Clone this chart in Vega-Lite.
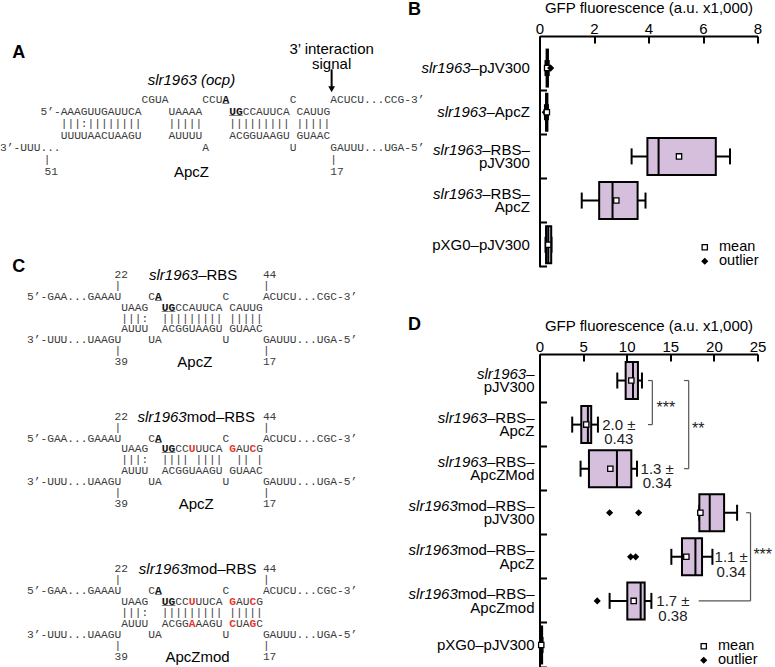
{
"$schema": "https://vega.github.io/schema/vega-lite/v6.json",
"padding": 0,
"background": "white",
"bounds": "flush",
"columns": 2,
"spacing": {"row": 86, "column": 149.5},
"resolve": {"scale": {"shape": "independent", "fill": "independent", "stroke": "independent"}, "legend": {"shape": "independent", "fill": "independent", "stroke": "independent"}},
"config": {
  "view": {"stroke": null},
  "font": "Liberation Sans",
  "axis": {"labelFont": "Liberation Sans", "titleFont": "Liberation Sans", "labelColor": "black", "titleColor": "black", "domainColor": "black", "tickColor": "black", "domainWidth": 2, "tickWidth": 2, "labelFontSize": 15, "titleFontSize": 15, "titleFontWeight": "normal", "grid": false},
  "legend": {"labelFont": "Liberation Sans", "labelFontSize": 14.5, "labelColor": "black", "rowPadding": -2, "padding": 0, "labelOffset": 7, "symbolSize": 28, "symbolStrokeWidth": 1.3}
},
"datasets": {
  "seqA": [
    {"s":"letter","line":-3.85,"col":1.8,"text":"A"},
    {"s":"sans","line":-4.15,"col":49.2,"text":"3’ interaction"},
    {"s":"sans","line":-2.98,"col":49.2,"text":"signal"},
    {"s":"itc","line":-1.62,"col":28.4,"text":"slr1963 (ocp)"},
    {"s":"arrow","line":-2.5,"line2":-0.95,"col":49.2},
    {"s":"tip","line":-0.85,"col":49.2},
    {"s":"n","line":0,"col":21,"text":"CGUA"},
    {"s":"n","line":0,"col":30,"text":"CCU"},
    {"s":"b","line":0,"col":33,"text":"A"},
    {"s":"u","line":0,"col":33,"text":"_"},
    {"s":"n","line":0,"col":43,"text":"C"},
    {"s":"n","line":0,"col":49,"text":"ACUCU...CCG-3’"},
    {"s":"n","line":1,"col":6,"text":"5’-AAAGUUGAUUCA"},
    {"s":"n","line":1,"col":25,"text":"UAAAA"},
    {"s":"b","line":1,"col":34,"text":"UG"},
    {"s":"u","line":1,"col":34,"text":"__"},
    {"s":"n","line":1,"col":36,"text":"CCAUUCA"},
    {"s":"n","line":1,"col":44,"text":"CAUUG"},
    {"s":"n","line":2,"col":9,"text":"|||:||||||||"},
    {"s":"n","line":2,"col":25,"text":"|||||"},
    {"s":"n","line":2,"col":34,"text":"|||||||||"},
    {"s":"n","line":2,"col":44,"text":"|||||"},
    {"s":"n","line":3,"col":9,"text":"UUUUAACUAAGU"},
    {"s":"n","line":3,"col":25,"text":"AUUUU"},
    {"s":"n","line":3,"col":34,"text":"ACGGUAAGU"},
    {"s":"n","line":3,"col":44,"text":"GUAAC"},
    {"s":"n","line":4,"col":0,"text":"3’-UUU..."},
    {"s":"n","line":4,"col":30,"text":"A"},
    {"s":"n","line":4,"col":43,"text":"U"},
    {"s":"n","line":4,"col":49,"text":"GAUUU...UGA-5’"},
    {"s":"n","line":5,"col":6.5,"text":"|"},
    {"s":"n","line":5,"col":49,"text":"|"},
    {"s":"n","line":6,"col":6.6,"text":"51"},
    {"s":"n","line":6,"col":49,"text":"17"},
    {"s":"sans","line":6,"col":28.4,"text":"ApcZ"}
  ],
  "seqC": [
    {"s":"letter","line":-0.7,"col":1.8,"text":"C"},
    {"s":"n","line":0,"col":17,"text":"22"},
    {"s":"itr","line":0,"col":29.4,"text":"slr1963"},
    {"s":"sansl","line":0,"col":29.4,"text":"–RBS"},
    {"s":"n","line":0,"col":39,"text":"44"},
    {"s":"n","line":1,"col":17,"text":"|"},
    {"s":"n","line":1,"col":39,"text":"|"},
    {"s":"n","line":2,"col":4,"text":"5’-GAA...GAAAU"},
    {"s":"n","line":2,"col":22,"text":"C"},
    {"s":"b","line":2,"col":23,"text":"A"},
    {"s":"u","line":2,"col":23,"text":"_"},
    {"s":"n","line":2,"col":33,"text":"C"},
    {"s":"n","line":2,"col":39,"text":"ACUCU...CGC-3’"},
    {"s":"n","line":3,"col":18,"text":"UAAG"},
    {"s":"b","line":3,"col":24,"text":"UG"},
    {"s":"u","line":3,"col":24,"text":"__"},
    {"s":"n","line":3,"col":26,"text":"CCAUUCA"},
    {"s":"n","line":3,"col":34,"text":"CAUUG"},
    {"s":"n","line":4,"col":18,"text":"|||:"},
    {"s":"n","line":4,"col":24,"text":"|||||||||"},
    {"s":"n","line":4,"col":34,"text":"|||||"},
    {"s":"n","line":5,"col":18,"text":"AUUU"},
    {"s":"n","line":5,"col":24,"text":"ACGGUAAGU"},
    {"s":"n","line":5,"col":34,"text":"GUAAC"},
    {"s":"n","line":6,"col":4,"text":"3’-UUU...UAAGU"},
    {"s":"n","line":6,"col":22,"text":"UA"},
    {"s":"n","line":6,"col":33,"text":"U"},
    {"s":"n","line":6,"col":39,"text":"GAUUU...UGA-5’"},
    {"s":"n","line":7,"col":17,"text":"|"},
    {"s":"n","line":7,"col":39,"text":"|"},
    {"s":"n","line":8,"col":17,"text":"39"},
    {"s":"sans","line":8,"col":28.9,"text":"ApcZ"},
    {"s":"n","line":8,"col":39,"text":"17"},

    {"s":"n","line":13,"col":17,"text":"22"},
    {"s":"itr","line":13,"col":27.7,"text":"slr1963"},
    {"s":"sansl","line":13,"col":27.7,"text":"mod–RBS"},
    {"s":"n","line":13,"col":39,"text":"44"},
    {"s":"n","line":14,"col":17,"text":"|"},
    {"s":"n","line":14,"col":39,"text":"|"},
    {"s":"n","line":15,"col":4,"text":"5’-GAA...GAAAU"},
    {"s":"n","line":15,"col":22,"text":"C"},
    {"s":"b","line":15,"col":23,"text":"A"},
    {"s":"u","line":15,"col":23,"text":"_"},
    {"s":"n","line":15,"col":33,"text":"C"},
    {"s":"n","line":15,"col":39,"text":"ACUCU...CGC-3’"},
    {"s":"n","line":16,"col":18,"text":"UAAG"},
    {"s":"b","line":16,"col":24,"text":"UG"},
    {"s":"u","line":16,"col":24,"text":"__"},
    {"s":"n","line":16,"col":26,"text":"CC"},
    {"s":"r","line":16,"col":28,"text":"U"},
    {"s":"n","line":16,"col":29,"text":"UUCA"},
    {"s":"r","line":16,"col":34,"text":"G"},
    {"s":"n","line":16,"col":35,"text":"AU"},
    {"s":"r","line":16,"col":37,"text":"C"},
    {"s":"n","line":16,"col":38,"text":"G"},
    {"s":"n","line":17,"col":18,"text":"|||:"},
    {"s":"n","line":17,"col":24,"text":"||||"},
    {"s":"n","line":17,"col":29,"text":"||||"},
    {"s":"n","line":17,"col":35,"text":"||"},
    {"s":"n","line":17,"col":38,"text":"|"},
    {"s":"n","line":18,"col":18,"text":"AUUU"},
    {"s":"n","line":18,"col":24,"text":"ACGGUAAGU"},
    {"s":"n","line":18,"col":34,"text":"GUAAC"},
    {"s":"n","line":19,"col":4,"text":"3’-UUU...UAAGU"},
    {"s":"n","line":19,"col":22,"text":"UA"},
    {"s":"n","line":19,"col":33,"text":"U"},
    {"s":"n","line":19,"col":39,"text":"GAUUU...UGA-5’"},
    {"s":"n","line":20,"col":17,"text":"|"},
    {"s":"n","line":20,"col":39,"text":"|"},
    {"s":"n","line":21,"col":17,"text":"39"},
    {"s":"sans","line":21,"col":29.1,"text":"ApcZ"},
    {"s":"n","line":21,"col":39,"text":"17"},

    {"s":"n","line":27,"col":17,"text":"22"},
    {"s":"itr","line":27,"col":27.9,"text":"slr1963"},
    {"s":"sansl","line":27,"col":27.9,"text":"mod–RBS"},
    {"s":"n","line":27,"col":39,"text":"44"},
    {"s":"n","line":28,"col":17,"text":"|"},
    {"s":"n","line":28,"col":39,"text":"|"},
    {"s":"n","line":29,"col":4,"text":"5’-GAA...GAAAU"},
    {"s":"n","line":29,"col":22,"text":"C"},
    {"s":"b","line":29,"col":23,"text":"A"},
    {"s":"u","line":29,"col":23,"text":"_"},
    {"s":"n","line":29,"col":33,"text":"C"},
    {"s":"n","line":29,"col":39,"text":"ACUCU...CGC-3’"},
    {"s":"n","line":30,"col":18,"text":"UAAG"},
    {"s":"b","line":30,"col":24,"text":"UG"},
    {"s":"u","line":30,"col":24,"text":"__"},
    {"s":"n","line":30,"col":26,"text":"CC"},
    {"s":"r","line":30,"col":28,"text":"U"},
    {"s":"n","line":30,"col":29,"text":"UUCA"},
    {"s":"r","line":30,"col":34,"text":"G"},
    {"s":"n","line":30,"col":35,"text":"AU"},
    {"s":"r","line":30,"col":37,"text":"C"},
    {"s":"n","line":30,"col":38,"text":"G"},
    {"s":"n","line":31,"col":18,"text":"|||:"},
    {"s":"n","line":31,"col":24,"text":"|||||||||"},
    {"s":"n","line":31,"col":34,"text":"|||||"},
    {"s":"n","line":32,"col":18,"text":"AUUU"},
    {"s":"n","line":32,"col":24,"text":"ACGG"},
    {"s":"r","line":32,"col":28,"text":"A"},
    {"s":"n","line":32,"col":29,"text":"AAGU"},
    {"s":"r","line":32,"col":34,"text":"C"},
    {"s":"n","line":32,"col":35,"text":"UA"},
    {"s":"r","line":32,"col":37,"text":"G"},
    {"s":"n","line":32,"col":38,"text":"C"},
    {"s":"n","line":33,"col":4,"text":"3’-UUU...UAAGU"},
    {"s":"n","line":33,"col":22,"text":"UA"},
    {"s":"n","line":33,"col":33,"text":"U"},
    {"s":"n","line":33,"col":39,"text":"GAUUU...UGA-5’"},
    {"s":"n","line":34,"col":17,"text":"|"},
    {"s":"n","line":34,"col":39,"text":"|"},
    {"s":"n","line":35,"col":17,"text":"39"},
    {"s":"sans","line":35,"col":29.3,"text":"ApcZmod"},
    {"s":"n","line":35,"col":39,"text":"17"}
  ],
  "boxB": [
    {"cat":"slr1963–pJV300","lo":0.22,"q1":0.26,"med":0.28,"q3":0.31,"hi":0.34},
    {"cat":"slr1963–ApcZ","lo":0.2,"q1":0.24,"med":0.26,"q3":0.29,"hi":0.31},
    {"cat":"slr1963–RBS–pJV300","lo":3.38,"q1":3.96,"med":4.37,"q3":6.47,"hi":6.99},
    {"cat":"slr1963–RBS–ApcZ","lo":1.55,"q1":2.19,"med":2.68,"q3":3.6,"hi":3.89},
    {"cat":"pXG0–pJV300","lo":0.22,"q1":0.24,"med":0.32,"q3":0.43,"hi":0.44}
  ],
  "markB": [
    {"cat":"slr1963–pJV300","v":0.28,"kind":"mean"},
    {"cat":"slr1963–pJV300","v":0.41,"kind":"outlier"},
    {"cat":"slr1963–ApcZ","v":0.21,"kind":"outlier"},
    {"cat":"slr1963–ApcZ","v":0.27,"kind":"mean"},
    {"cat":"slr1963–RBS–pJV300","v":5.12,"kind":"mean"},
    {"cat":"slr1963–RBS–ApcZ","v":2.82,"kind":"mean"},
    {"cat":"pXG0–pJV300","v":0.32,"kind":"mean"}
  ],
  "labB": [
    {"cat":"slr1963–pJV300","it":"slr1963","r1":"–pJV300","r2":"","n":1},
    {"cat":"slr1963–ApcZ","it":"slr1963","r1":"–ApcZ","r2":"","n":1},
    {"cat":"slr1963–RBS–pJV300","it":"slr1963","r1":"–RBS–","r2":"pJV300","n":2},
    {"cat":"slr1963–RBS–ApcZ","it":"slr1963","r1":"–RBS–","r2":"ApcZ","n":2},
    {"cat":"pXG0–pJV300","it":"","r1":"pXG0–pJV300","r2":"","n":1}
  ],
  "boxD": [
    {"cat":"slr1963–pJV300","lo":8.92,"q1":9.88,"med":10.72,"q3":11.29,"hi":11.75},
    {"cat":"slr1963–RBS–ApcZ","lo":3.75,"q1":4.79,"med":5.55,"q3":5.93,"hi":6.7},
    {"cat":"slr1963–RBS–ApcZMod","lo":4.71,"q1":5.67,"med":8.88,"q3":10.53,"hi":11.18},
    {"cat":"slr1963mod–RBS–pJV300","lo":18.33,"q1":18.33,"med":19.52,"q3":21.17,"hi":22.66},
    {"cat":"slr1963mod–RBS–ApcZ","lo":15.12,"q1":16.34,"med":17.88,"q3":18.64,"hi":19.83},
    {"cat":"slr1963mod–RBS–ApcZmod","lo":8.04,"q1":10.07,"med":11.6,"q3":12.06,"hi":12.83},
    {"cat":"pXG0–pJV300","lo":0.1,"q1":0.15,"med":0.2,"q3":0.3,"hi":0.35}
  ],
  "markD": [
    {"cat":"slr1963–pJV300","v":10.53,"kind":"mean"},
    {"cat":"slr1963–RBS–ApcZ","v":5.36,"kind":"mean"},
    {"cat":"slr1963–RBS–ApcZMod","v":8.12,"kind":"mean"},
    {"cat":"slr1963mod–RBS–pJV300","v":18.45,"kind":"mean"},
    {"cat":"slr1963mod–RBS–pJV300","v":8.04,"kind":"outlier"},
    {"cat":"slr1963mod–RBS–pJV300","v":11.37,"kind":"outlier"},
    {"cat":"slr1963mod–RBS–ApcZ","v":16.84,"kind":"mean"},
    {"cat":"slr1963mod–RBS–ApcZ","v":10.45,"kind":"outlier"},
    {"cat":"slr1963mod–RBS–ApcZ","v":11.03,"kind":"outlier"},
    {"cat":"slr1963mod–RBS–ApcZmod","v":10.8,"kind":"mean"},
    {"cat":"slr1963mod–RBS–ApcZmod","v":6.62,"kind":"outlier"},
    {"cat":"pXG0–pJV300","v":0.2,"kind":"mean"}
  ],
  "labD": [
    {"cat":"slr1963–pJV300","it":"slr1963","r1":"–","r2":"pJV300","n":2},
    {"cat":"slr1963–RBS–ApcZ","it":"slr1963","r1":"–RBS–","r2":"ApcZ","n":2},
    {"cat":"slr1963–RBS–ApcZMod","it":"slr1963","r1":"–RBS–","r2":"ApcZMod","n":2},
    {"cat":"slr1963mod–RBS–pJV300","it":"slr1963","r1":"mod–RBS–","r2":"pJV300","n":2},
    {"cat":"slr1963mod–RBS–ApcZ","it":"slr1963","r1":"mod–RBS–","r2":"ApcZ","n":2},
    {"cat":"slr1963mod–RBS–ApcZmod","it":"slr1963","r1":"mod–RBS–","r2":"ApcZmod","n":2},
    {"cat":"pXG0–pJV300","it":"","r1":"pXG0–pJV300","r2":"","n":1}
  ],
  "annD": [
    {"cat":"slr1963–RBS–ApcZ","x":9.1,"text":"2.0 ±\n0.43"},
    {"cat":"slr1963–RBS–ApcZMod","x":13.5,"text":"1.3 ±\n0.34"},
    {"cat":"slr1963mod–RBS–ApcZ","x":21.98,"text":"1.1 ±\n0.34"},
    {"cat":"slr1963mod–RBS–ApcZmod","x":15.3,"text":"1.7 ±\n0.38"}
  ],
  "brV": [
    {"cat":"slr1963–pJV300","cat2":"slr1963–RBS–ApcZ","x":12.94},
    {"cat":"slr1963–pJV300","cat2":"slr1963–RBS–ApcZMod","x":17.11},
    {"cat":"slr1963mod–RBS–pJV300","cat2":"slr1963mod–RBS–ApcZmod","x":24.2}
  ],
  "brH": [
    {"cat":"slr1963–pJV300","x1":12.44,"x2":12.94},
    {"cat":"slr1963–RBS–ApcZ","x1":12.44,"x2":12.94},
    {"cat":"slr1963–pJV300","x1":16.58,"x2":17.11},
    {"cat":"slr1963–RBS–ApcZMod","x1":16.58,"x2":17.11},
    {"cat":"slr1963mod–RBS–pJV300","x1":23.7,"x2":24.2},
    {"cat":"slr1963mod–RBS–ApcZmod","x1":18.26,"x2":24.2}
  ],
  "starsD": [
    {"cat":"slr1963–pJV300","x":14.5,"text":"***","k":"edge"},
    {"cat":"slr1963–RBS–ApcZ","x":18.2,"text":"**","k":"mid"},
    {"cat":"slr1963mod–RBS–ApcZ","x":25.6,"text":"***","k":"high"}
  ]
},
"concat": [
  {
    "width": 390,
    "height": 231.5,
    "data": {"name": "seqA"},
    "encoding": {
      "x": {"field": "col", "type": "quantitative", "scale": {"domain": [0, 57.86], "nice": false, "zero": false}, "axis": null},
      "y": {"field": "line", "type": "quantitative", "scale": {"domain": [-5.27, 13.94], "nice": false, "zero": false, "reverse": true}, "axis": null}
    },
    "layer": [
      {"transform": [{"filter": "datum.s == 'n'"}], "mark": {"type": "text", "font": "Liberation Mono", "fontSize": 11.23, "align": "left", "baseline": "middle", "color": "#3a3a3a", "opacity": 0.99}, "encoding": {"text": {"field": "text"}}},
      {"transform": [{"filter": "datum.s == 'b' || datum.s == 'u'"}], "mark": {"type": "text", "font": "Liberation Mono", "fontSize": 11.23, "fontWeight": "bold", "align": "left", "baseline": "middle", "color": "#111111", "opacity": 0.99}, "encoding": {"text": {"field": "text"}}},
      {"transform": [{"filter": "datum.s == 'sans'"}], "mark": {"type": "text", "font": "Liberation Sans", "fontSize": 15, "align": "center", "baseline": "middle", "color": "black"}, "encoding": {"text": {"field": "text"}}},
      {"transform": [{"filter": "datum.s == 'itc'"}], "mark": {"type": "text", "font": "Liberation Sans", "fontSize": 15, "fontStyle": "italic", "align": "center", "baseline": "middle", "color": "black"}, "encoding": {"text": {"field": "text"}}},
      {"transform": [{"filter": "datum.s == 'letter'"}], "mark": {"type": "text", "font": "Liberation Sans", "fontSize": 18, "fontWeight": "bold", "align": "left", "baseline": "middle", "color": "black"}, "encoding": {"text": {"field": "text"}}},
      {"transform": [{"filter": "datum.s == 'arrow'"}], "mark": {"type": "rule", "color": "black", "strokeWidth": 2}, "encoding": {"y2": {"field": "line2"}}},
      {"transform": [{"filter": "datum.s == 'tip'"}], "mark": {"type": "point", "shape": "triangle-down", "filled": true, "color": "black", "size": 45, "opacity": 1}}
    ]
  },
  {
    "width": 218,
    "height": 230.8,
    "title": {"text": "B", "anchor": "start", "frame": "group", "font": "Liberation Sans", "fontSize": 18, "fontWeight": "bold", "color": "black", "dx": -131.5, "dy": 18.5, "offset": 0},
    "encoding": {
      "y": {"field": "cat", "type": "nominal", "title": null,
        "scale": {"type": "band", "domain": ["slr1963–pJV300","slr1963–ApcZ","slr1963–RBS–pJV300","slr1963–RBS–ApcZ","pXG0–pJV300"], "paddingInner": 0, "paddingOuter": 0.1132, "align": 1},
        "axis": {"title": null, "labels": false, "tickSize": -7, "bandPosition": 1, "domainWidth": 2, "tickWidth": 2}}
    },
    "layer": [
      {"data": {"name": "boxB"}, "mark": {"type": "rule", "color": "black", "strokeWidth": 2},
       "encoding": {"x": {"field": "lo", "type": "quantitative", "title": "GFP fluorescence (a.u. x1,000)", "scale": {"domain": [0, 8], "nice": false, "zero": false},
         "axis": {"orient": "top", "values": [0, 2, 4, 6, 8], "tickSize": -7, "labelPadding": 7, "titlePadding": 6, "labelFlush": false}},
         "x2": {"field": "hi"}}},
      {"data": {"name": "boxB"}, "mark": {"type": "tick", "color": "black", "thickness": 2, "size": 16, "opacity": 1},
       "encoding": {"x": {"field": "lo", "type": "quantitative", "title": "GFP fluorescence (a.u. x1,000)"}}},
      {"data": {"name": "boxB"}, "mark": {"type": "tick", "color": "black", "thickness": 2, "size": 16, "opacity": 1},
       "encoding": {"x": {"field": "hi", "type": "quantitative", "title": "GFP fluorescence (a.u. x1,000)"}}},
      {"data": {"name": "boxB"}, "mark": {"type": "bar", "fill": "#d5bfdd", "stroke": "black", "strokeWidth": 2, "size": 37},
       "encoding": {"x": {"field": "q1", "type": "quantitative", "title": "GFP fluorescence (a.u. x1,000)"}, "x2": {"field": "q3"}}},
      {"data": {"name": "boxB"}, "mark": {"type": "tick", "color": "black", "thickness": 2, "size": 37, "opacity": 1},
       "encoding": {"x": {"field": "med", "type": "quantitative", "title": "GFP fluorescence (a.u. x1,000)"}}},
      {"data": {"name": "markB"}, "mark": {"type": "point", "filled": true, "strokeWidth": 1.3, "size": 28, "opacity": 1},
       "encoding": {
         "x": {"field": "v", "type": "quantitative", "title": "GFP fluorescence (a.u. x1,000)"},
         "shape": {"field": "kind", "type": "nominal", "scale": {"domain": ["mean", "outlier"], "range": ["square", "diamond"]}, "legend": {"title": null, "orient": "bottom-right", "offset": -1}},
         "fill": {"field": "kind", "type": "nominal", "scale": {"domain": ["mean", "outlier"], "range": ["white", "black"]}, "legend": {"title": null, "orient": "bottom-right", "offset": -1}},
         "stroke": {"field": "kind", "type": "nominal", "scale": {"domain": ["mean", "outlier"], "range": ["black", "black"]}, "legend": {"title": null, "orient": "bottom-right", "offset": -1}}
       }},
      {"data": {"name": "labB"}, "transform": [{"filter": "datum.n == 1"}], "mark": {"type": "text", "font": "Liberation Sans", "fontSize": 15, "align": "right", "baseline": "middle", "color": "black", "dx": -9.7},
       "encoding": {"x": {"datum": 0, "type": "quantitative"}, "text": {"field": "r1"}}},
      {"data": {"name": "labB"}, "transform": [{"filter": "datum.n == 2"}], "mark": {"type": "text", "font": "Liberation Sans", "fontSize": 15, "align": "right", "baseline": "middle", "color": "black", "dx": -9.7, "dy": -6.7},
       "encoding": {"x": {"datum": 0, "type": "quantitative"}, "text": {"field": "r1"}}},
      {"data": {"name": "labB"}, "transform": [{"filter": "datum.n == 2"}], "mark": {"type": "text", "font": "Liberation Sans", "fontSize": 15, "align": "right", "baseline": "middle", "color": "black", "dx": -9.7, "dy": 6.7},
       "encoding": {"x": {"datum": 0, "type": "quantitative"}, "text": {"field": "r2"}}},
      {"data": {"name": "labB"}, "transform": [{"filter": "datum.r1 == '–pJV300'"}], "mark": {"type": "text", "font": "Liberation Sans", "fontSize": 15, "fontStyle": "italic", "align": "right", "baseline": "middle", "color": "black", "dx": -68.9},
       "encoding": {"x": {"datum": 0, "type": "quantitative"}, "text": {"field": "it"}}},
      {"data": {"name": "labB"}, "transform": [{"filter": "datum.r1 == '–ApcZ'"}], "mark": {"type": "text", "font": "Liberation Sans", "fontSize": 15, "fontStyle": "italic", "align": "right", "baseline": "middle", "color": "black", "dx": -53.05},
       "encoding": {"x": {"datum": 0, "type": "quantitative"}, "text": {"field": "it"}}},
      {"data": {"name": "labB"}, "transform": [{"filter": "datum.r1 == '–RBS–'"}], "mark": {"type": "text", "font": "Liberation Sans", "fontSize": 15, "fontStyle": "italic", "align": "right", "baseline": "middle", "color": "black", "dx": -57.2, "dy": -6.7},
       "encoding": {"x": {"datum": 0, "type": "quantitative"}, "text": {"field": "it"}}}
    ]
  },
  {
    "width": 390,
    "height": 313,
    "data": {"name": "seqC"},
    "encoding": {
      "x": {"field": "col", "type": "quantitative", "scale": {"domain": [0, 57.86], "nice": false, "zero": false}, "axis": null},
      "y": {"field": "line", "type": "quantitative", "scale": {"domain": [7.248, 35.96], "nice": false, "zero": false, "reverse": true}, "axis": null}
    },
    "layer": [
      {"transform": [{"filter": "datum.s == 'n'"}], "mark": {"type": "text", "font": "Liberation Mono", "fontSize": 11.23, "align": "left", "baseline": "middle", "color": "#3a3a3a", "opacity": 0.99}, "encoding": {"text": {"field": "text"}}},
      {"transform": [{"filter": "datum.s == 'b' || datum.s == 'u'"}], "mark": {"type": "text", "font": "Liberation Mono", "fontSize": 11.23, "fontWeight": "bold", "align": "left", "baseline": "middle", "color": "#111111", "opacity": 0.99}, "encoding": {"text": {"field": "text"}}},
      {"transform": [{"filter": "datum.s == 'r'"}], "mark": {"type": "text", "font": "Liberation Mono", "fontSize": 11.23, "fontWeight": "bold", "align": "left", "baseline": "middle", "color": "#e8352b", "opacity": 0.99}, "encoding": {"text": {"field": "text"}}},
      {"transform": [{"filter": "datum.s == 'sans'"}], "mark": {"type": "text", "font": "Liberation Sans", "fontSize": 15, "align": "center", "baseline": "middle", "color": "black"}, "encoding": {"text": {"field": "text"}}},
      {"transform": [{"filter": "datum.s == 'itr'"}], "mark": {"type": "text", "font": "Liberation Sans", "fontSize": 15, "fontStyle": "italic", "align": "right", "baseline": "middle", "color": "black"}, "encoding": {"text": {"field": "text"}}},
      {"transform": [{"filter": "datum.s == 'sansl'"}], "mark": {"type": "text", "font": "Liberation Sans", "fontSize": 15, "align": "left", "baseline": "middle", "color": "black"}, "encoding": {"text": {"field": "text"}}},
      {"transform": [{"filter": "datum.s == 'letter'"}], "mark": {"type": "text", "font": "Liberation Sans", "fontSize": 18, "fontWeight": "bold", "align": "left", "baseline": "middle", "color": "black"}, "encoding": {"text": {"field": "text"}}}
    ]
  },
  {
    "width": 218,
    "height": 313,
    "title": {"text": "D", "anchor": "start", "frame": "group", "font": "Liberation Sans", "fontSize": 18, "fontWeight": "bold", "color": "black", "dx": -131.5, "dy": 15.5, "offset": 0},
    "encoding": {
      "y": {"field": "cat", "type": "nominal", "title": null,
        "scale": {"type": "band", "domain": ["slr1963–pJV300","slr1963–RBS–ApcZ","slr1963–RBS–ApcZMod","slr1963mod–RBS–pJV300","slr1963mod–RBS–ApcZ","slr1963mod–RBS–ApcZmod","pXG0–pJV300"], "paddingInner": 0, "paddingOuter": 0.051, "align": 1},
        "axis": {"title": null, "labels": false, "tickSize": -7, "bandPosition": 1, "domainWidth": 2, "tickWidth": 2}}
    },
    "layer": [
      {"data": {"name": "brV"}, "mark": {"type": "rule", "color": "#555555", "strokeWidth": 1.2},
       "encoding": {"x": {"field": "x", "type": "quantitative", "title": "GFP fluorescence (a.u. x1,000)", "scale": {"domain": [0, 25], "nice": false, "zero": false},
         "axis": {"orient": "top", "values": [0, 5, 10, 15, 20, 25], "tickSize": -7, "labelPadding": 7, "titlePadding": 6, "labelFlush": false}},
         "y2": {"field": "cat2"}}},
      {"data": {"name": "brH"}, "mark": {"type": "rule", "color": "#555555", "strokeWidth": 1.2},
       "encoding": {"x": {"field": "x1", "type": "quantitative", "title": "GFP fluorescence (a.u. x1,000)"}, "x2": {"field": "x2"}}},
      {"data": {"name": "boxD"}, "mark": {"type": "rule", "color": "black", "strokeWidth": 2},
       "encoding": {"x": {"field": "lo", "type": "quantitative", "title": "GFP fluorescence (a.u. x1,000)"}, "x2": {"field": "hi"}}},
      {"data": {"name": "boxD"}, "mark": {"type": "tick", "color": "black", "thickness": 2, "size": 16, "opacity": 1},
       "encoding": {"x": {"field": "lo", "type": "quantitative", "title": "GFP fluorescence (a.u. x1,000)"}}},
      {"data": {"name": "boxD"}, "mark": {"type": "tick", "color": "black", "thickness": 2, "size": 16, "opacity": 1},
       "encoding": {"x": {"field": "hi", "type": "quantitative", "title": "GFP fluorescence (a.u. x1,000)"}}},
      {"data": {"name": "boxD"}, "mark": {"type": "bar", "fill": "#d5bfdd", "stroke": "black", "strokeWidth": 2, "size": 37},
       "encoding": {"x": {"field": "q1", "type": "quantitative", "title": "GFP fluorescence (a.u. x1,000)"}, "x2": {"field": "q3"}}},
      {"data": {"name": "boxD"}, "mark": {"type": "tick", "color": "black", "thickness": 2, "size": 37, "opacity": 1},
       "encoding": {"x": {"field": "med", "type": "quantitative", "title": "GFP fluorescence (a.u. x1,000)"}}},
      {"data": {"name": "markD"}, "mark": {"type": "point", "filled": true, "strokeWidth": 1.3, "size": 28, "opacity": 1},
       "encoding": {
         "x": {"field": "v", "type": "quantitative", "title": "GFP fluorescence (a.u. x1,000)"},
         "shape": {"field": "kind", "type": "nominal", "scale": {"domain": ["mean", "outlier"], "range": ["square", "diamond"]}, "legend": {"title": null, "orient": "bottom-right", "offset": 0}},
         "fill": {"field": "kind", "type": "nominal", "scale": {"domain": ["mean", "outlier"], "range": ["white", "black"]}, "legend": {"title": null, "orient": "bottom-right", "offset": 0}},
         "stroke": {"field": "kind", "type": "nominal", "scale": {"domain": ["mean", "outlier"], "range": ["black", "black"]}, "legend": {"title": null, "orient": "bottom-right", "offset": 0}}
       }},
      {"data": {"name": "annD"}, "mark": {"type": "text", "font": "Liberation Sans", "fontSize": 15, "align": "center", "baseline": "middle", "color": "#222222", "lineBreak": "\n", "lineHeight": 14.7},
       "encoding": {"x": {"field": "x", "type": "quantitative", "title": "GFP fluorescence (a.u. x1,000)"}, "text": {"field": "text"}}},
      {"data": {"name": "starsD"}, "transform": [{"filter": "datum.k == 'edge'"}], "mark": {"type": "text", "font": "Liberation Sans", "fontSize": 16, "align": "center", "baseline": "middle", "color": "#222222", "dy": 5},
       "encoding": {"x": {"field": "x", "type": "quantitative", "title": "GFP fluorescence (a.u. x1,000)"}, "y": {"field": "cat", "type": "nominal", "bandPosition": 1}, "text": {"field": "text"}}},
      {"data": {"name": "starsD"}, "transform": [{"filter": "datum.k == 'mid'"}], "mark": {"type": "text", "font": "Liberation Sans", "fontSize": 16, "align": "center", "baseline": "middle", "color": "#222222", "dy": 4},
       "encoding": {"x": {"field": "x", "type": "quantitative", "title": "GFP fluorescence (a.u. x1,000)"}, "text": {"field": "text"}}},
      {"data": {"name": "starsD"}, "transform": [{"filter": "datum.k == 'high'"}], "mark": {"type": "text", "font": "Liberation Sans", "fontSize": 16, "align": "center", "baseline": "middle", "color": "#222222", "dy": -2},
       "encoding": {"x": {"field": "x", "type": "quantitative", "title": "GFP fluorescence (a.u. x1,000)"}, "text": {"field": "text"}}},
      {"data": {"name": "labD"}, "transform": [{"filter": "datum.n == 1"}], "mark": {"type": "text", "font": "Liberation Sans", "fontSize": 15, "align": "right", "baseline": "middle", "color": "black", "dx": -5},
       "encoding": {"x": {"datum": 0, "type": "quantitative"}, "text": {"field": "r1"}}},
      {"data": {"name": "labD"}, "transform": [{"filter": "datum.n == 2"}], "mark": {"type": "text", "font": "Liberation Sans", "fontSize": 15, "align": "right", "baseline": "middle", "color": "black", "dx": -5, "dy": -6.7},
       "encoding": {"x": {"datum": 0, "type": "quantitative"}, "text": {"field": "r1"}}},
      {"data": {"name": "labD"}, "transform": [{"filter": "datum.n == 2"}], "mark": {"type": "text", "font": "Liberation Sans", "fontSize": 15, "align": "right", "baseline": "middle", "color": "black", "dx": -5, "dy": 6.7},
       "encoding": {"x": {"datum": 0, "type": "quantitative"}, "text": {"field": "r2"}}},
      {"data": {"name": "labD"}, "transform": [{"filter": "datum.r1 == '–'"}], "mark": {"type": "text", "font": "Liberation Sans", "fontSize": 15, "fontStyle": "italic", "align": "right", "baseline": "middle", "color": "black", "dx": -13.3, "dy": -6.7},
       "encoding": {"x": {"datum": 0, "type": "quantitative"}, "text": {"field": "it"}}},
      {"data": {"name": "labD"}, "transform": [{"filter": "datum.r1 == '–RBS–'"}], "mark": {"type": "text", "font": "Liberation Sans", "fontSize": 15, "fontStyle": "italic", "align": "right", "baseline": "middle", "color": "black", "dx": -52.5, "dy": -6.7},
       "encoding": {"x": {"datum": 0, "type": "quantitative"}, "text": {"field": "it"}}},
      {"data": {"name": "labD"}, "transform": [{"filter": "datum.r1 == 'mod–RBS–'"}], "mark": {"type": "text", "font": "Liberation Sans", "fontSize": 15, "fontStyle": "italic", "align": "right", "baseline": "middle", "color": "black", "dx": -81.7, "dy": -6.7},
       "encoding": {"x": {"datum": 0, "type": "quantitative"}, "text": {"field": "it"}}}
    ]
  }
]
}
